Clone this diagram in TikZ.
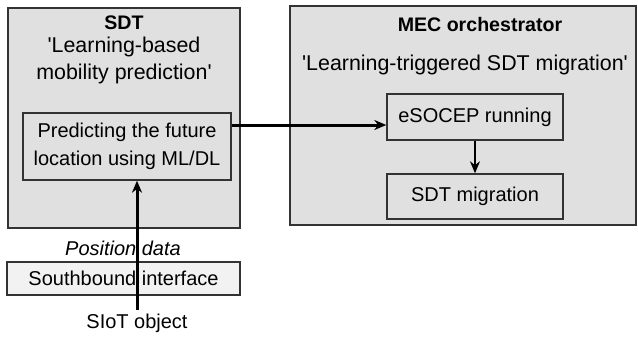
\documentclass[tikz,border=0pt]{standalone}
\usepackage{fontspec}
\setmainfont{Liberation Sans}
\usetikzlibrary{arrows.meta}
\newcommand\diafont{\fontsize{10}{14}\selectfont}
\newcommand\rolefont{\fontsize{10.7}{13.5}\selectfont}

\begin{document}
\begin{tikzpicture} [x=0.5pt,y=-0.5pt,>={Stealth[length=6pt,width=5pt]}]
\tikzstyle{panel}=[rectangle,draw=black!80,line width=0.9pt,fill=black!12,inner sep=0pt]
\tikzstyle{block}=[rectangle,draw=black!80,line width=0.7pt,fill=black!12,align=center,inner sep=0pt,font=\diafont]
\tikzstyle{txt}=[align=center,inner sep=0pt,font=\diafont]
\tikzstyle{role}=[align=center,inner sep=0pt,font=\rolefont]
\tikzstyle{head}=[inner sep=0pt,font=\fontsize{9.8}{12}\selectfont\bfseries]
\tikzstyle{note}=[inner sep=0pt,font=\diafont\itshape]
\useasboundingbox (0,0) rectangle (638,338);
\node at(124,118)(sdt)[panel,minimum width=116pt,minimum height=110pt]{};
\node at(124,22.8)(sdthead)[head]{SDT};
\node at(124,60)(sdtrole)[role]{\textquotesingle Learning-based\\mobility prediction\textquotesingle};
\node at(127,146.5)(pred)[block,minimum width=104pt,minimum height=33.5pt]{Predicting the future\\location using ML/DL};
\node at(463,115.5)(mec)[panel,minimum width=173pt,minimum height=109.5pt]{};
\node at(480,24.8)(mechead)[head]{MEC orchestrator};
\node at(465,65)(mecrole)[role]{\textquotesingle Learning-triggered SDT migration\textquotesingle};
\node at(475,117)(esocep)[block,minimum width=88pt,minimum height=23pt]{eSOCEP running};
\node at(475,196.5)(migr)[block,minimum width=88pt,minimum height=22.5pt]{SDT migration}
	edge [<-,line width=0.7pt] (esocep);
\node at(123,248)(posdata)[note]{Position data};
\node at(123.5,278.5)(south)[block,fill=black!5,minimum width=116.5pt,minimum height=16.5pt]{Southbound interface};
\node at(137,323)(siot)[txt]{SIoT object};
\coordinate (siottop) at (137,310);
\draw [->,line width=1.5pt] (siottop) -- (siottop |- pred.south);
\draw [->,line width=1.5pt] (pred.east |- 0,125) -- (esocep.west |- 0,125);
\end{tikzpicture}
\end{document}
